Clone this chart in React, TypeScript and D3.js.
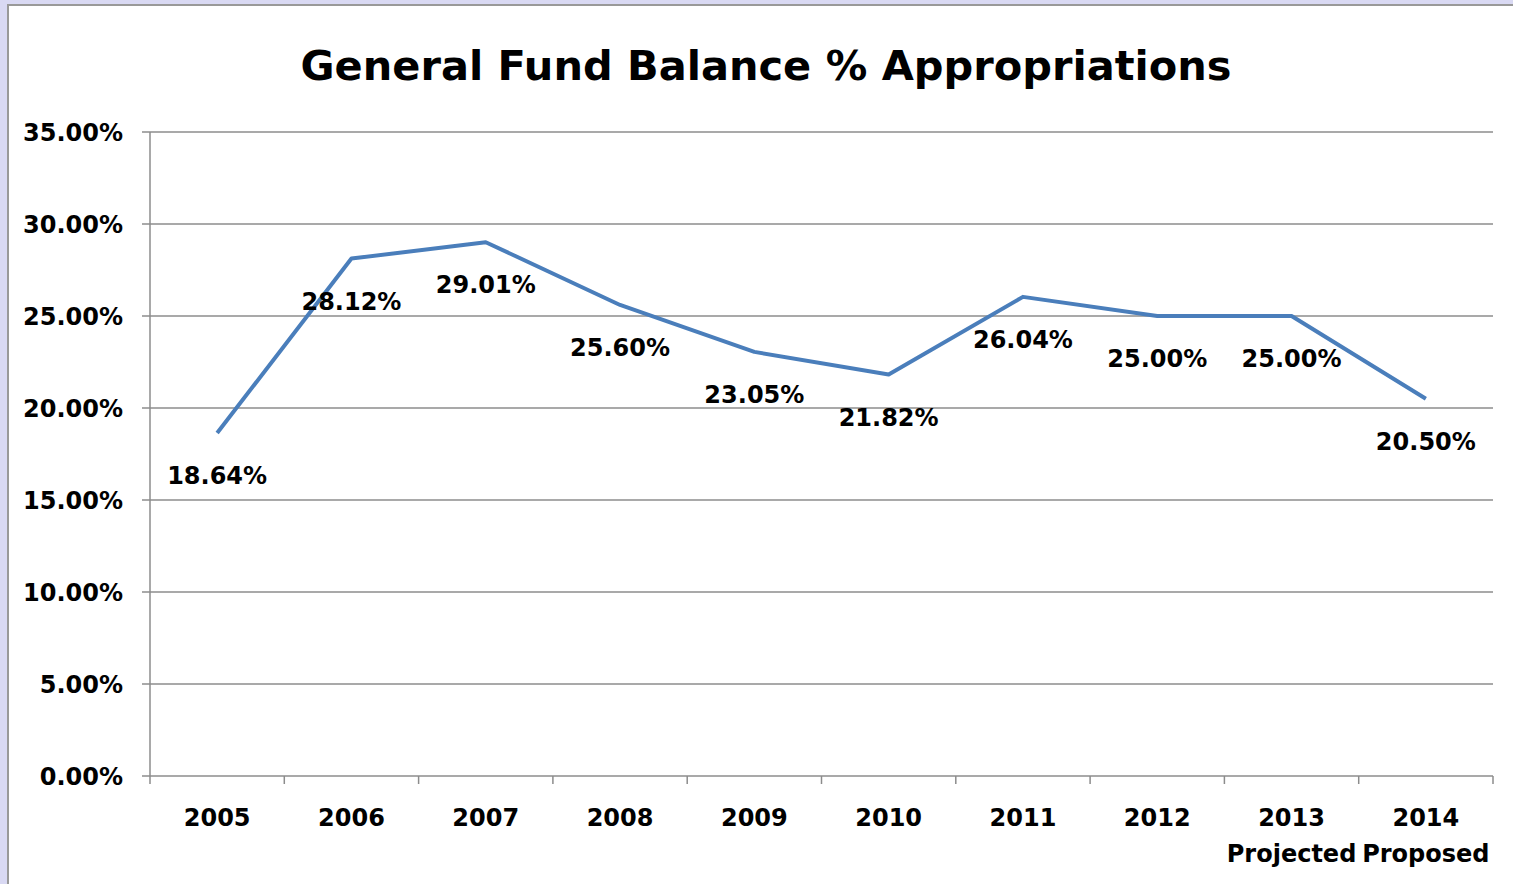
import React, { useEffect, useRef } from 'react';
import * as d3 from 'd3';

const categories = ['2005', '2006', '2007', '2008', '2009', '2010', '2011', '2012', '2013', '2014'];
const subLabels = ['', '', '', '', '', '', '', '', 'Projected', 'Proposed'];
const balancePct = [18.64, 28.12, 29.01, 25.60, 23.05, 21.82, 26.04, 25.00, 25.00, 20.50];
const yTicks = [0, 5, 10, 15, 20, 25, 30, 35];

const W = 1513, H = 884;
const FONT = '"DejaVu Sans", sans-serif';

const App = () => {
  const ref = useRef<SVGSVGElement>(null);

  useEffect(() => {
    const svg = d3.select(ref.current);
    svg.selectAll('*').remove();

    // background + panel
    svg.append('rect').attr('width', W).attr('height', H).attr('fill', '#d9d9f3');
    svg.append('rect').attr('x', 8).attr('y', 5).attr('width', W + 20).attr('height', H + 20)
      .attr('fill', '#fff').attr('stroke', '#999').attr('stroke-width', 2);

    const x = d3.scaleBand().domain(categories).range([150, 1493]);
    const y = d3.scaleLinear().domain([0, 35]).range([776, 132]);

    svg.append('text')
      .attr('x', 766).attr('y', 80)
      .attr('text-anchor', 'middle')
      .attr('font-family', FONT).attr('font-weight', 'bold').attr('font-size', 41.5)
      .text('General Fund Balance % Appropriations');

    // gridlines
    svg.append('g').selectAll('line').data(yTicks).enter().append('line')
      .attr('x1', 142).attr('x2', 1493)
      .attr('y1', d => y(d)).attr('y2', d => y(d))
      .attr('stroke', '#8c8c8c').attr('stroke-width', 1.5);

    // y axis line
    svg.append('line').attr('x1', 150).attr('x2', 150).attr('y1', y(35)).attr('y2', y(0))
      .attr('stroke', '#8c8c8c').attr('stroke-width', 1.5);

    // x tick marks at band edges
    const edges = categories.map(c => x(c) as number).concat([1493]);
    svg.append('g').selectAll('line').data(edges).enter().append('line')
      .attr('x1', d => d).attr('x2', d => d)
      .attr('y1', y(0)).attr('y2', y(0) + 8)
      .attr('stroke', '#8c8c8c').attr('stroke-width', 1.5);

    // y labels
    svg.append('g').selectAll('text').data(yTicks).enter().append('text')
      .attr('x', 123).attr('y', d => y(d) + 9)
      .attr('text-anchor', 'end')
      .attr('font-family', FONT).attr('font-weight', 'bold').attr('font-size', 24)
      .text(d => d3.format('.2f')(d) + '%');

    // x labels
    const xl = svg.append('g').selectAll('text').data(categories).enter().append('text')
      .attr('text-anchor', 'middle')
      .attr('font-family', FONT).attr('font-weight', 'bold').attr('font-size', 24);
    xl.append('tspan')
      .attr('x', d => (x(d) as number) + x.bandwidth() / 2).attr('y', 826)
      .text(d => d);
    xl.append('tspan')
      .attr('x', d => (x(d) as number) + x.bandwidth() / 2).attr('y', 862)
      .text((d, i) => subLabels[i]);

    // line
    const line = d3.line<number>()
      .x((d, i) => (x(categories[i]) as number) + x.bandwidth() / 2)
      .y(d => y(d));
    svg.append('path').datum(balancePct)
      .attr('d', line)
      .attr('fill', 'none').attr('stroke', '#4a7ebb').attr('stroke-width', 4)
      .attr('stroke-linejoin', 'round');

    // data labels
    svg.append('g').selectAll('text').data(balancePct).enter().append('text')
      .attr('x', (d, i) => (x(categories[i]) as number) + x.bandwidth() / 2)
      .attr('y', d => y(d) + 51)
      .attr('text-anchor', 'middle')
      .attr('font-family', FONT).attr('font-weight', 'bold').attr('font-size', 24)
      .text(d => d3.format('.2f')(d) + '%');
  }, []);

  return <svg ref={ref} width={W} height={H} style={{ position: 'absolute', left: 0, top: 0 }} />;
};

export default App;
